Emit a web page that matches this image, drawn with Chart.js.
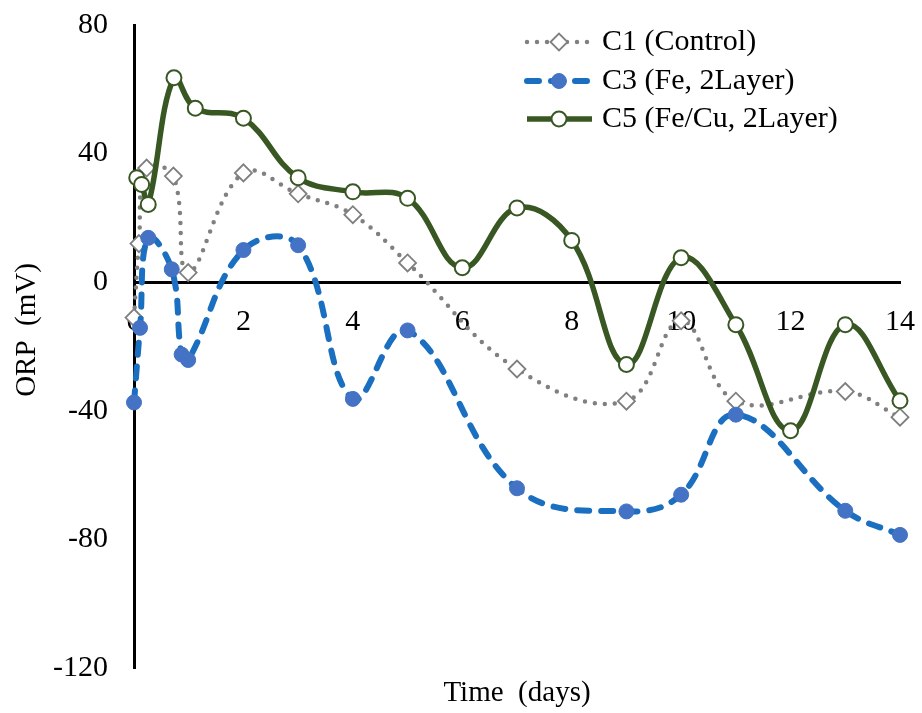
<!DOCTYPE html>
<html>
<head>
<meta charset="utf-8">
<title>ORP over time</title>
<script src="https://cdn.jsdelivr.net/npm/chart.js@4.4.1/dist/chart.umd.min.js"></script>
<style>
  html, body { margin: 0; padding: 0; background: #fff; }
</style>
</head>
<body>
<canvas id="orpChart" width="922" height="713"></canvas>
<script>
// Series data (time in days, ORP in mV)
const c1Days = [0, 0.09, 0.23, 0.72, 0.99, 2, 3, 4, 5, 7, 9, 10, 11, 13, 14];
const c1Orp = [-11, 12, 35.5, 33, 3, 34, 27.5, 21, 6, -27, -37, -12, -37, -34, -42];

const c3Days = [0, 0.11, 0.26, 0.69, 0.87, 0.99, 2, 3, 4, 5, 7, 9, 10, 11, 13, 14];
const c3Orp = [-37.4, -14.2, 13.8, 4, -22.5, -24.2, 10, 11.5, -36.3, -15, -64.1, -71.3, -66.1, -41.2, -71.1, -78.6];

const c5Days = [0.05, 0.14, 0.26, 0.73, 1.12, 2, 3, 4, 5, 6, 7, 8, 9, 10, 11, 12, 13, 14];
const c5Orp = [32.5, 30.4, 24.2, 63.6, 54.1, 51, 32.5, 28.1, 26.1, 4.5, 23.1, 13, -25.6, 7.6, -13.2, -46.2, -13.2, -36.9];

const seriesNames = ['C1 (Control)', 'C3 (Fe, 2Layer)', 'C5 (Fe/Cu, 2Layer)'];

// Axis settings
const xMin = 0, xMax = 14, xStep = 2;
const yMin = -120, yMax = 80, yStep = 40;
const xTitle = 'Time  (days)';
const yTitle = 'ORP  (mV)';

const serif = 'Liberation Serif, Times New Roman, serif';

function toPoints(days, values) {
    return days.map((d, i) => ({ x: d, y: values[i] }));
}

// Draws the key in the top right corner (line sample + marker + label)
// and the vertical axis title
const keyPlugin = {
    id: 'seriesKey',
    afterDraw(chart) {
        const ctx = chart.ctx;
        const rowsY = [42, 81, 119];
        chart.data.datasets.forEach((ds, i) => {
            const y = rowsY[i];
            ctx.save();
            ctx.strokeStyle = ds.borderColor;
            ctx.lineWidth = ds.borderWidth;
            ctx.lineCap = ds.borderCapStyle || 'butt';
            ctx.setLineDash(ds.borderDash || []);
            ctx.beginPath();
            ctx.moveTo(527, y);
            ctx.lineTo(592, y);
            ctx.stroke();
            ctx.setLineDash([]);
            ctx.fillStyle = ds.pointBackgroundColor;
            ctx.strokeStyle = ds.pointBorderColor;
            ctx.lineWidth = ds.pointBorderWidth;
            Chart.helpers.drawPoint(ctx, {
                pointStyle: ds.pointStyle,
                radius: ds.pointRadius,
                rotation: 0,
                borderWidth: ds.pointBorderWidth
            }, 559, y);
            ctx.fillStyle = '#000';
            ctx.font = '30px ' + serif;
            ctx.textBaseline = 'middle';
            ctx.textAlign = 'left';
            ctx.fillText(seriesNames[i], 602, y);
            ctx.restore();
        });

        ctx.save();
        ctx.translate(27, 330);
        ctx.rotate(-Math.PI / 2);
        ctx.fillStyle = '#000';
        ctx.font = '29px ' + serif;
        ctx.textAlign = 'center';
        ctx.textBaseline = 'middle';
        ctx.fillText(yTitle, 0, 0);
        ctx.restore();
    }
};

const ctx = document.getElementById('orpChart').getContext('2d');

const orpChart = new Chart(ctx, {
    type: 'line',
    data: {
        datasets: [{
            label: seriesNames[0],
            data: toPoints(c1Days, c1Orp),
            borderColor: '#808080',
            borderWidth: 4.5,
            borderDash: [0, 10],
            borderCapStyle: 'round',
            tension: 0.4,
            pointStyle: 'rectRot',
            pointRadius: 8.5,
            pointBackgroundColor: '#ffffff',
            pointBorderColor: '#7f7f7f',
            pointBorderWidth: 1.8,
            clip: false,
            order: 3
        }, {
            label: seriesNames[1],
            data: toPoints(c3Days, c3Orp),
            borderColor: '#1a6fc0',
            borderWidth: 6,
            borderDash: [12, 12],
            borderCapStyle: 'round',
            tension: 0.4,
            pointStyle: 'circle',
            pointRadius: 7.5,
            pointBackgroundColor: '#4472c4',
            pointBorderColor: '#4472c4',
            pointBorderWidth: 1,
            clip: false,
            order: 2
        }, {
            label: seriesNames[2],
            data: toPoints(c5Days, c5Orp),
            borderColor: '#385723',
            borderWidth: 5.5,
            tension: 0.4,
            pointStyle: 'circle',
            pointRadius: 7.5,
            pointBackgroundColor: '#ffffff',
            pointBorderColor: '#385723',
            pointBorderWidth: 2,
            clip: false,
            order: 1
        }]
    },
    options: {
        responsive: false,
        animation: false,
        layout: { padding: { top: 25, right: 22, left: 0, bottom: 0 } },
        plugins: {
            legend: { display: false },
            tooltip: { enabled: false },
            title: {
                display: true,
                text: xTitle,
                position: 'bottom',
                fullSize: false,
                color: '#000',
                font: { family: serif, size: 29, weight: 'normal' },
                padding: { top: 7.6, bottom: 2.6 }
            }
        },
        scales: {
            x: {
                type: 'linear',
                position: { y: 0 },
                min: xMin,
                max: xMax,
                // invisible tick marks only push the labels away from the axis
                grid: { display: true, drawOnChartArea: false, drawTicks: true, tickLength: 22, tickColor: 'rgba(0,0,0,0)' },
                border: { display: true, color: '#000', width: 3 },
                ticks: {
                    stepSize: xStep,
                    color: '#000',
                    font: { family: serif, size: 30 },
                    padding: 0
                }
            },
            y: {
                min: yMin,
                max: yMax,
                grid: { display: true, drawOnChartArea: false, drawTicks: true, tickLength: 26, tickColor: 'rgba(0,0,0,0)' },
                border: { display: true, color: '#000', width: 3 },
                ticks: {
                    stepSize: yStep,
                    color: '#000',
                    font: { family: serif, size: 30 },
                    padding: 0
                },
                afterFit(scale) {
                    scale.width = 134;
                }
            }
        }
    },
    plugins: [keyPlugin]
});
</script>
</body>
</html>
